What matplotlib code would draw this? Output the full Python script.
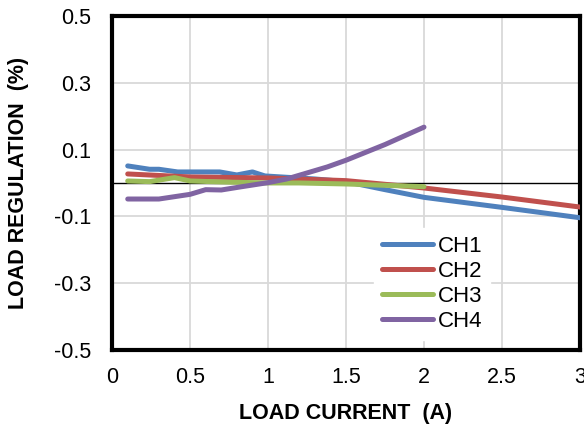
import numpy as np
import matplotlib.pyplot as plt

plt.rcParams['font.family'] = ['Liberation Sans', 'DejaVu Sans']

# Load regulation data
ch1_x = [0.1, 0.24, 0.3, 0.42, 0.5, 0.6, 0.69, 0.8, 0.9, 0.98, 1.12, 1.3, 1.5, 1.75, 2.0, 2.5, 3.0]
ch1_y = [0.051, 0.041, 0.041, 0.033, 0.033, 0.033, 0.033, 0.024, 0.033, 0.021, 0.017, 0.012, 0.004, -0.02, -0.043, -0.073, -0.104]

ch2_x = [0.1, 0.5, 1.0, 1.5, 2.0, 2.5, 3.0]
ch2_y = [0.027, 0.018, 0.015, 0.007, -0.015, -0.042, -0.072]

ch3_x = [0.1, 0.24, 0.4, 0.5, 0.7, 1.0, 1.2, 1.5, 2.0]
ch3_y = [0.006, 0.004, 0.016, 0.006, 0.003, 0.0, 0.0, -0.003, -0.011]

ch4_x = [0.1, 0.3, 0.5, 0.6, 0.7, 0.82, 1.0, 1.12, 1.25, 1.38, 1.5, 1.75, 2.0]
ch4_y = [-0.048, -0.048, -0.034, -0.02, -0.021, -0.012, 0.001, 0.012, 0.03, 0.048, 0.068, 0.115, 0.167]

series = [
    ('CH1', ch1_x, ch1_y, '#4F81BD'),
    ('CH2', ch2_x, ch2_y, '#C0504D'),
    ('CH3', ch3_x, ch3_y, '#9BBB59'),
    ('CH4', ch4_x, ch4_y, '#8064A2'),
]

fig = plt.figure(figsize=(5.84, 4.28), dpi=100)
ax = fig.add_axes([0.192, 0.182, 0.801, 0.781])

for name, xs, ys, col in series:
    ax.plot(xs, ys, color=col, lw=3.6, solid_capstyle='round', solid_joinstyle='round', label=name, zorder=3)

ax.axhline(0, color='black', lw=1.0, zorder=2)

ax.set_xlim(0, 3)
ax.set_ylim(-0.5, 0.5)
ax.set_xticks(np.arange(0, 3.01, 0.5))
ax.set_xticklabels(['0', '0.5', '1', '1.5', '2', '2.5', '3'])
ax.set_yticks([-0.5, -0.3, -0.1, 0.1, 0.3, 0.5])
ax.set_yticklabels(['-0.5', '-0.3', '-0.1', '0.1', '0.3', '0.5'])
ax.grid(True, color='#D9D9D9', lw=1.3, zorder=0)
ax.set_axisbelow(True)
ax.tick_params(axis='x', length=0, labelsize=15.5, pad=12)
ax.tick_params(axis='y', length=0, labelsize=15.5, pad=15)

for s in ax.spines.values():
    s.set_linewidth(3)
    s.set_color('black')

ax.set_xlabel('LOAD CURRENT  (A)', fontsize=15.5, fontweight='bold', labelpad=11)
ax.set_ylabel('LOAD REGULATION  (%)', fontsize=15.5, fontweight='bold', labelpad=18)

leg = ax.legend(loc='upper left', bbox_to_anchor=(0.56, 0.366), fontsize=16, frameon=True,
                fancybox=False, edgecolor='white', framealpha=1, handlelength=2.3,
                handletextpad=0.2, labelspacing=0.19, borderpad=0.35, borderaxespad=0)

fig.savefig('out.png', dpi=100)
